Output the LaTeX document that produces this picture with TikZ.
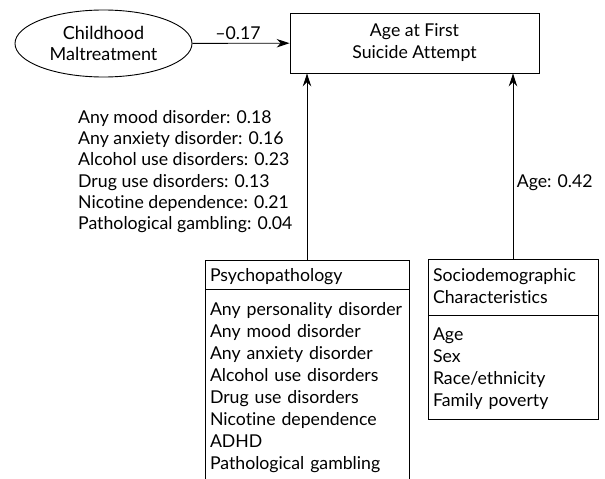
\documentclass[tikz,border=0pt]{standalone}
\usepackage{fontspec}
\setmainfont{Lato}[Ligatures=NoCommon]
\usetikzlibrary{shapes.geometric,shapes.multipart,arrows.meta}
\newcommand{\gapup}[1]{\rule{0pt}{#1}}
\newcommand{\gapdown}[1]{\rule[-#1]{0pt}{#1}}
\begin{document}
\begin{tikzpicture}[x=1pt,y=-1pt,
  every node/.style={font=\fontsize{17.7}{22}\selectfont},
  box/.style={draw=black,line width=0.9pt},
  listbox/.style={box,rectangle split,rectangle split parts=2,align=left,
    inner xsep=5pt,inner ysep=4pt},
  link/.style={line width=0.9pt,-{Stealth[length=13pt,width=8.5pt]}}]
  \useasboundingbox (0,0) rectangle (605,479);
  \clip (0,0) rectangle (605,479);
  \node[box,shape=ellipse,minimum width=177pt,minimum height=67pt,inner sep=0pt,align=center,
    font=\fontsize{18}{21.5}\selectfont] (mal) at (103.5,43.5) {Childhood\\Maltreatment};
  \node[box,shape=rectangle,minimum width=249pt,minimum height=60pt,align=center] (age) at (414.5,43) {Age at First\\Suicide Attempt};
  \node[listbox,text width=194pt,anchor=north] (psy) at (307,260) {\gapup{17pt}Psychopathology
    \nodepart{second}\gapup{21pt}\mbox{Any personality disorder}\\Any mood disorder\\Any anxiety disorder\\Alcohol use disorders\\Drug use disorders\\Nicotine dependence\\ADHD\\Pathological gambling\gapdown{8pt}};
  \node[listbox,text width=160pt,anchor=north] (soc) at (513,259) {\gapup{18pt}Sociodemographic\\Characteristics\gapdown{7pt}
    \nodepart{second}\gapup{21pt}Age\\Sex\\Race/ethnicity\\Family poverty\gapdown{8pt}};
  \node[align=left,anchor=north west,inner sep=0pt,font=\fontsize{17.7}{21.3}\selectfont] (psylab) at (78,110) {Any mood disorder: 0.18\\Any anxiety disorder: 0.16\\Alcohol use disorders: 0.23\\Drug use disorders: 0.13\\Nicotine dependence: 0.21\\Pathological gambling: 0.04};
  \path[link] (mal) edge node[above,pos=0.47] {–0.17} (age);
  \path[link] (psy.north) edge (psy.north |- age.south);
  \path[link] (soc.north) edge node[right,pos=0.41] {Age: 0.42} (soc.north |- age.south);
\end{tikzpicture}
\end{document}
